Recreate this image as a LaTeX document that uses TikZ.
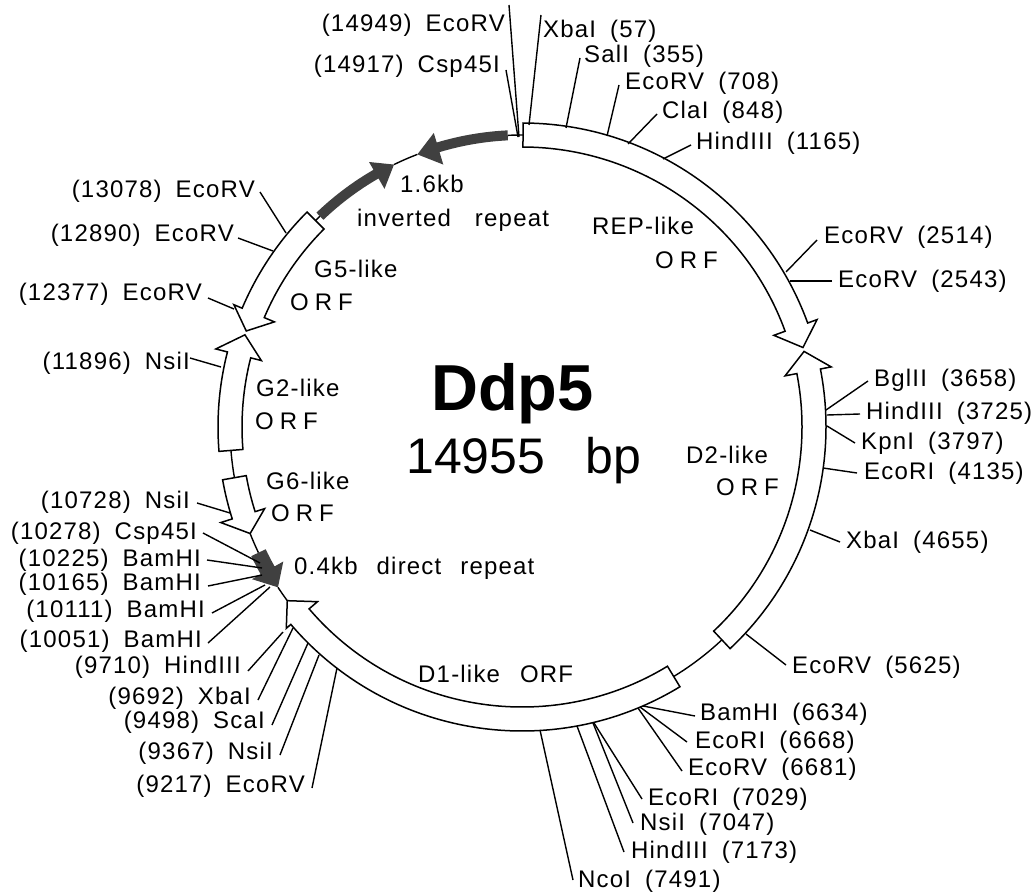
\documentclass[tikz,border=0pt]{standalone}
\usepackage{fontspec}
\setmainfont[LetterSpace=5]{Liberation Sans}
\newfontfamily\plainfont{Liberation Sans}
\newcommand{\PP}[2]{({522+(#2)*sin(#1)},{-427+(#2)*cos(#1)})}
\newcommand{\gp}{\hspace{14pt}}
\newcommand{\OO}{O\hspace{6pt}R\hspace{6pt}F}
% feature: start, notch, tip angle, inner r, outer r, inner wing r, outer wing r, style
\newcommand{\feature}[8]{%
  \draw[#8] \PP{#1}{#5} arc[start angle={90-(#1)},end angle={90-(#2)},radius=#5pt]
    -- \PP{#2}{#7} -- \PP{#3}{292} -- \PP{#2}{#6} -- \PP{#2}{#4}
    arc[start angle={90-(#2)},end angle={90-(#1)},radius=#4pt] -- cycle;}
\newcommand{\backbone}[2]{%
  \draw[linkline] \PP{#1}{292} arc[start angle={90-(#1)},end angle={90-(#2)},radius=292pt];}
% site: name, anchor, x, baseline y, text, leader start x,y, leader end x,y
\newcommand{\site}[9]{%
  \node[sitelabel,anchor=base #2] (#1) at (#3,-#4) {#5};
  \coordinate (#1-lead) at (#6,-#7);
  \coordinate (#1-site) at (#8,-#9);
  \draw[leader] (#1-lead) -- (#1-site);}
\newcommand{\lab}[4]{\node[sitelabel,anchor=base west] (#1) at (#2,-#3) {#4};}
\tikzset{
  sitelabel/.style={inner sep=0pt,font=\fontsize{24}{26}\selectfont},
  leader/.style={line width=1.4pt,black},
  linkline/.style={line width=1.4pt,black},
  orf/.style={draw=black,fill=white,line width=1.5pt,line join=miter},
  rpt/.style={draw=none,fill=black!75},
}
\begin{document}
\begin{tikzpicture}[x=1pt,y=1pt]
\useasboundingbox (0,0) rectangle (1036,-893);
% backbone
\backbone{0.2}{-2.8}
\backbone{-21}{-26}
\backbone{-43.8}{-45}
\backbone{-94.6}{-100}
\backbone{-111.4}{-115.5}
\backbone{-123.3}{-126.5}
\backbone{136.8}{148.7}
% ORFs
\feature{0.2}{70}{74.2}{280}{304}{268}{314}{orf}
\feature{136.8}{79}{75}{280}{304}{268}{315}{orf}
\feature{148.7}{229.5}{233.5}{280}{304}{269}{310}{orf}
\feature{315}{293}{289.2}{280}{304}{269}{313}{orf}
\feature{265.4}{284.3}{288.4}{280}{304}{269}{316}{orf}
\feature{260}{252.4}{248.6}{280}{304}{270}{316}{orf}
% repeats
\feature{357.2}{343.3}{339}{287}{297}{274}{307}{rpt}
\feature{316.2}{330}{334}{287}{297}{275}{306}{rpt}
\feature{244.5}{240.6}{236.7}{284}{300}{274}{310}{rpt}
% sites, top and right
\site{a1}{west}{543}{38}{XbaI\gp(57)}{541}{15}{529}{125}
\site{a2}{west}{584}{63}{SalI\gp(355)}{580}{58}{566}{128}
\site{a3}{west}{625}{90}{EcoRV\gp(708)}{619}{85}{607}{136}
\site{a4}{west}{662}{119}{ClaI\gp(848)}{657}{114}{628}{144}
\site{a5}{west}{696}{150}{HindIII\gp(1165)}{691}{145}{663}{159}
\site{a6}{west}{824}{244}{EcoRV\gp(2514)}{817}{240}{786}{272}
\site{a7}{west}{838}{288}{EcoRV\gp(2543)}{832}{281}{790}{281}
\site{a8}{west}{874}{386}{BglII\gp(3658)}{868}{381}{826}{410}
\site{a9}{west}{866}{419}{HindIII\gp(3725)}{860}{414}{827}{415}
\site{a10}{west}{861}{449}{KpnI\gp(3797)}{855}{443}{827}{426}
\site{a11}{west}{864}{479}{EcoRI\gp(4135)}{857}{473}{823}{468}
\site{a12}{west}{846}{548}{XbaI\gp(4655)}{840}{542}{810}{530}
\site{a13}{west}{792}{673}{EcoRV\gp(5625)}{786}{665}{746}{634}
\site{a14}{west}{700}{720}{BamHI\gp(6634)}{695}{716}{643}{706}
\site{a15}{west}{695}{748}{EcoRI\gp(6668)}{687}{742}{640}{707}
\site{a16}{west}{688}{775}{EcoRV\gp(6681)}{682}{771}{638}{708}
\site{a17}{west}{648}{805}{EcoRI\gp(7029)}{642}{799}{594}{723}
\site{a18}{west}{640}{830}{NsiI\gp(7047)}{633}{823}{593}{723}
\site{a19}{west}{631}{858}{HindIII\gp(7173)}{624}{852}{577}{726}
\site{a20}{west}{578}{887}{NcoI\gp(7491)}{573}{880}{540}{730}
% sites, left
\site{b1}{east}{505}{32}{(14949)\gp EcoRV}{509}{5}{519}{137}
\site{b2}{east}{500}{73}{(14917)\gp Csp45I}{506}{70}{518}{137}
\site{b3}{east}{255}{198}{(13078)\gp EcoRV}{260}{192}{286}{233}
\site{b4}{east}{234}{242}{(12890)\gp EcoRV}{238}{238}{273}{251}
\site{b5}{east}{202}{301}{(12377)\gp EcoRV}{208}{298}{234}{309}
\site{b6}{east}{190}{369}{(11896)\gp NsiI}{190}{358}{221}{367}
\site{b7}{east}{190}{508}{(10728)\gp NsiI}{197}{503}{230}{513}
\site{b8}{east}{197}{539}{(10278)\gp Csp45I}{203}{533}{260}{563}
\site{b9}{east}{201}{566}{(10225)\gp BamHI}{207}{560}{262}{568}
\site{b10}{east}{201}{590}{(10165)\gp BamHI}{208}{586}{262}{575}
\site{b11}{east}{205}{617}{(10111)\gp BamHI}{212}{613}{265}{585}
\site{b12}{east}{202}{647}{(10051)\gp BamHI}{208}{643}{270}{587}
\site{b13}{east}{241}{673}{(9710)\gp HindIII}{248}{671}{283}{632}
\site{b14}{east}{251}{704}{(9692)\gp XbaI}{258}{700}{293}{628}
\site{b15}{east}{265}{728}{(9498)\gp ScaI}{272}{725}{308}{643}
\site{b16}{east}{273}{759}{(9367)\gp NsiI}{280}{755}{319}{655}
\site{b17}{east}{305}{792}{(9217)\gp EcoRV}{312}{788}{337}{668}
% feature labels
\lab{t1}{400}{193}{1.6kb}
\lab{t2}{357}{227}{inverted\hspace{24pt}repeat}
\lab{t3}{592}{235}{REP-like}
\lab{t4}{655}{269}{\OO}
\lab{t5}{314}{278}{G5-like}
\lab{t6}{290}{310}{\OO}
\lab{t7}{256}{396}{G2-like}
\lab{t8}{255}{429}{\OO}
\lab{t9}{266}{489}{G6-like}
\lab{t10}{271}{521}{\OO}
\lab{t11}{294}{574}{0.4kb\hspace{19pt}direct\hspace{19pt}repeat}
\lab{t12}{418}{682}{D1-like\hspace{20pt}ORF}
\lab{t13}{686}{463}{D2-like}
\lab{t14}{716}{495}{\OO}
\node[inner sep=0pt,anchor=base west,font=\plainfont\bfseries\fontsize{65}{70}\selectfont] (title) at (431,-410) {Ddp5};
\node[inner sep=0pt,anchor=base west,font=\plainfont\fontsize{50}{55}\selectfont] (size) at (406,-473) {14955\hspace{40pt}bp};
\end{tikzpicture}
\end{document}
